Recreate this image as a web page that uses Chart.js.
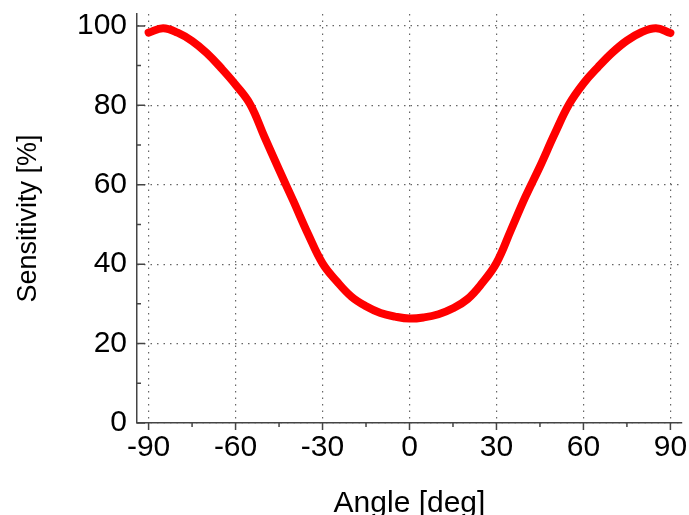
<!DOCTYPE html>
<html>
<head>
<meta charset="utf-8">
<script src="https://cdn.jsdelivr.net/npm/chart.js@4/dist/chart.umd.min.js"></script>
<style>
  body { margin: 0; background: #fff; }
</style>
</head>
<body>
<canvas id="chart" width="689" height="515"></canvas>
<script>
// angle of incidence (deg) and measured sensitivity (%)
const angles = [-90, -85, -80, -75, -70, -65, -60, -55, -50, -45, -40, -35, -30, -25, -20, -15, -10, -5,
  0, 5, 10, 15, 20, 25, 30, 35, 40, 45, 50, 55, 60, 65, 70, 75, 80, 85, 90];
const sensitivity = [98.3, 99.4, 98.3, 96.2, 93.2, 89.4, 85.2, 80.3, 72, 63.8, 55.8, 47.6, 40.2, 35.6, 31.8, 29.4, 27.7, 26.8,
  26.3, 26.6, 27.4, 28.9, 31.2, 35.2, 40.3, 48.6, 57, 64.6, 72.7, 80.2, 85.5, 89.6, 93.3, 96.3, 98.4, 99.4, 98.2];

const xTicks = [-90, -60, -30, 0, 30, 60, 90];
const xMinor = [-75, -45, -15, 15, 45, 75];
const yTicks = [0, 20, 40, 60, 80, 100];
const yMinor = [10, 30, 50, 70, 90];

const axisColor = '#444';
const tickFont = { family: "'Liberation Sans', Arial, sans-serif", size: 30 };

// tick marks: x ticks point down, y ticks point into the plot
const tickMarks = {
  id: 'tickMarks',
  afterDraw(chart) {
    const { ctx, scales: { x, y } } = chart;
    ctx.save();
    ctx.strokeStyle = axisColor;
    ctx.lineWidth = 1.5;
    ctx.beginPath();
    xTicks.forEach(v => { const px = x.getPixelForValue(v); ctx.moveTo(px, y.bottom); ctx.lineTo(px, y.bottom + 7); });
    xMinor.forEach(v => { const px = x.getPixelForValue(v); ctx.moveTo(px, y.bottom); ctx.lineTo(px, y.bottom + 4); });
    yTicks.forEach(v => { const py = y.getPixelForValue(v); ctx.moveTo(x.left, py); ctx.lineTo(x.left + 8, py); });
    yMinor.forEach(v => { const py = y.getPixelForValue(v); ctx.moveTo(x.left, py); ctx.lineTo(x.left + 4, py); });
    ctx.stroke();
    ctx.restore();
  }
};

new Chart(document.getElementById('chart'), {
  type: 'line',
  data: {
    datasets: [{
      data: angles.map((a, i) => ({ x: a, y: sensitivity[i] })),
      borderColor: '#ff0000',
      borderWidth: 8,
      borderCapStyle: 'round',
      borderJoinStyle: 'round',
      pointRadius: 0,
      tension: 0.4,
      fill: false
    }]
  },
  options: {
    responsive: false,
    animation: false,
    layout: { padding: { top: 14, right: 7, left: 0, bottom: 0 } },
    plugins: { legend: { display: false }, tooltip: { enabled: false } },
    scales: {
      x: {
        type: 'linear',
        min: -94,
        max: 94,
        afterBuildTicks: s => { s.ticks = xTicks.map(v => ({ value: v })); },
        afterFit: s => { s.height = 92; s.paddingLeft = 0; s.paddingRight = 0; },
        ticks: { color: '#000', font: tickFont, padding: 7, maxRotation: 0 },
        grid: { color: '#666', lineWidth: 1.2, drawTicks: false },
        border: { color: axisColor, width: 1.5, dash: [1.5, 5] },
        title: { display: true, text: 'Angle [deg]', color: '#000',
          font: { family: "'Liberation Sans', Arial, sans-serif", size: 30 }, padding: { top: 0, bottom: -7 } }
      },
      y: {
        min: 0,
        max: 103,
        afterBuildTicks: s => { s.ticks = yTicks.map(v => ({ value: v })); },
        afterFit: s => { s.width = 137; s.paddingTop = 0; s.paddingBottom = 0; },
        ticks: { color: '#000', font: tickFont, padding: 10 },
        grid: { color: '#666', lineWidth: 1.2, drawTicks: false },
        border: { color: axisColor, width: 1.5, dash: [1.5, 5] },
        title: { display: true, text: 'Sensitivity [%]', color: '#000',
          font: { family: "'Liberation Sans', Arial, sans-serif", size: 27 }, padding: { top: 12, bottom: 0 } }
      }
    }
  },
  plugins: [tickMarks]
});
</script>
</body>
</html>
